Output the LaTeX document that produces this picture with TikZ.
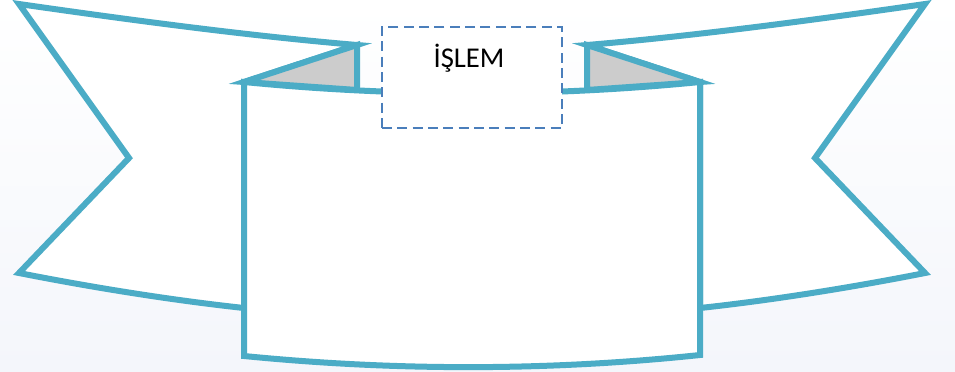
\documentclass[tikz,border=0pt]{standalone}
\usepackage{fontspec}
\setmainfont{Carlito}
\usepackage{xcolor}
\usepackage{tikz}

\definecolor{ruban}{RGB}{75,172,198}
\definecolor{pli}{RGB}{204,204,204}
\definecolor{tirets}{RGB}{74,126,187}
\definecolor{fond}{RGB}{244,246,251}

\begin{document}
\begin{tikzpicture}[x=0.75pt, y=-0.75pt, line join=miter,
  bande/.style={draw=ruban, line width=4.5pt, fill=white},
  repli/.style={draw=ruban, line width=4.5pt, fill=pli},
  cadre/.style={draw=tirets, line width=1.9pt, dash pattern=on 7.5pt off 4pt,
    fill=white, minimum width=135pt, minimum height=75.75pt, inner sep=0pt}]

  % Fond en dégradé
  \shade[top color=white, bottom color=fond] (0,0) rectangle (955,371);
  \useasboundingbox (0,0) rectangle (955,371);

  % Queue gauche du ruban
  \draw[bande] (19,4) .. controls (130,20) and (250,36) .. (357,45) -- (244,82)
    -- (244,308) .. controls (170,300) and (90,287) .. (19,273) -- (129,158) -- cycle;

  % Queue droite du ruban
  \draw[bande] (925,4) .. controls (814,20) and (694,36) .. (587,45) -- (700,82)
    -- (700,308) .. controls (774,300) and (854,287) .. (925,273) -- (815,158) -- cycle;

  % Replis gris
  \draw[repli] (357,45) -- (244,82) -- (357,90) -- cycle;
  \draw[repli] (587,45) -- (700,82) -- (587,90) -- cycle;

  % Partie centrale
  \draw[bande] (244,82) .. controls (396,97) and (548,97) .. (700,82)
    -- (700,355) .. controls (548,371) and (396,371) .. (244,356) -- cycle;

  % Cadre en pointillés et titre
  \node[cadre] (cadre) at (472,77.5) {};
  \node[anchor=base, inner sep=0pt, font=\fontsize{21.5}{26}\selectfont] (islem) at (469,67) {İŞLEM};
\end{tikzpicture}
\end{document}
